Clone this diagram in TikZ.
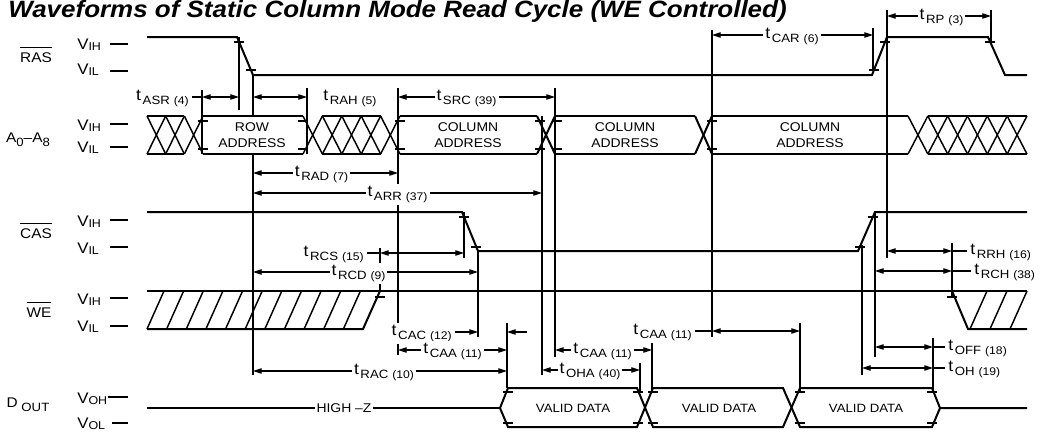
\documentclass[tikz,border=0pt]{standalone}
\usepackage{fontspec}
\setmainfont[FakeStretch=1.1]{Liberation Sans}
\usetikzlibrary{arrows.meta}
\newcommand{\tsb}[2]{t\kern1.2pt\raisebox{-3pt}{\fontsize{9}{9}\selectfont #1\kern3pt\fontsize{8.3}{9}\selectfont #2}}
\newcommand{\vsb}[1]{V\raisebox{-0.8pt}{\fontsize{8.5}{9}\selectfont #1}}
\newcommand{\ovl}[1]{\setbox0=\hbox{#1}\rlap{\rule[\dimexpr\ht0+3pt\relax]{\wd0}{0.7pt}}\box0{}}
\begin{document}
\begin{tikzpicture}[x=0.75pt,y=-0.75pt,
 sig/.style={line width=1.5pt,line join=miter},
 hat/.style={line width=1.1pt},
 ln/.style={line width=0.8pt},
 tk/.style={line width=0.8pt},
 dim/.style={line width=0.8pt,{Triangle[length=6.5pt,width=4pt]}-{Triangle[length=6.5pt,width=4pt]}},
 adim/.style={line width=0.8pt,-{Triangle[length=6.5pt,width=4pt]}},
 tlab/.style={font=\fontsize{12}{12}\selectfont,inner sep=1.5pt,fill=white},
 vl/.style={font=\fontsize{11.5}{12}\selectfont,inner sep=0pt,anchor=base west},
 sname/.style={font=\fontsize{10.5}{12}\selectfont,inner sep=0pt,anchor=base},
 bus/.style={font=\fontsize{9.5}{12.4}\selectfont,align=center,inner sep=0pt},
 dat/.style={font=\fontsize{9}{11}\selectfont,inner sep=1pt}]
\useasboundingbox (0,0) rectangle (1046,433);
\clip (0,0) rectangle (1046,433);
\fill[white] (0,0) rectangle (1046,433);

% title
\node[anchor=base west,inner sep=0pt,font=\fontsize{17.7}{18}\selectfont\bfseries\itshape] (title) at (8,17.5) {Waveforms of Static Column Mode Read Cycle (\ovl{WE} Controlled)};

% signal names
\node[sname] (nRAS) at (36,62) {\ovl{RAS}};
\node[sname] (nA) at (28,142) {A\raisebox{-3.5pt}{\fontsize{9}{9}\selectfont 0}–A\raisebox{-3.5pt}{\fontsize{9}{9}\selectfont 8}};
\node[sname] (nCAS) at (36,238) {\ovl{CAS}};
\node[sname] (nWE) at (39,317) {\ovl{WE}};
\node[sname] (nDO) at (28,407) {D\raisebox{-3pt}{\fontsize{9}{9}\selectfont\ OUT}};

% level labels
\node[vl] (v1) at (77,49) {\vsb{IH}};
\node[vl] (v2) at (77,74) {\vsb{IL}};
\node[vl] (v3) at (77,130) {\vsb{IH}};
\node[vl] (v4) at (77,152) {\vsb{IL}};
\node[vl] (v5) at (77,226) {\vsb{IH}};
\node[vl] (v6) at (77,253) {\vsb{IL}};
\node[vl] (v7) at (77,304) {\vsb{IH}};
\node[vl] (v8) at (77,331) {\vsb{IL}};
\node[vl] (v9) at (77,403) {\vsb{OH}};
\node[vl] (v10) at (77,428) {\vsb{OL}};
\foreach \a/\b/\y in {110/128/44, 110/128/71, 110/128/124, 110/128/147, 110/128/220, 110/128/247, 110/128/298, 110/128/326, 108/128/397, 112/128/423}
  \draw[ln] (\a,\y)--(\b,\y);

% verticals
\foreach \x/\a/\b in {202/90/154, 239/37/110, 253/75/116, 253/154/375, 307/88/154, 380/248/291, 464/212/258, 478/251/337, 507/323/388, 542/116/375, 555/88/357, 640/363/392, 652/343/392, 712/30/337, 800/323/392, 862/245/375, 873/28/70, 875/212/357, 887/10/258, 933/338/392, 952/243/298, 991/10/42, 398/88/355}
  \draw[ln] (\x,\a)--(\x,\b);

% RAS
\draw[sig] (147,37)--(237,37)--(253,75)--(872,75)--(887,37)--(988,37)--(1005,75)--(1027,75);

% Address bus
\foreach \a/\b in {147/184.33, 203/303, 322.4/380.6, 400/537, 555/695, 712/908, 927.83/1027}
  {\draw[sig] (\a,116)--(\b,116); \draw[sig] (\a,154)--(\b,154);}
\foreach \s/\w/\n in {147/18.667/2, 303/19.4/4, 908/19.833/5}
  \foreach \k in {0,...,\n}
    {\draw[hat] ({\s+\k*\w},116)--({\s+(\k+1)*\w},154);
     \draw[hat] ({\s+\k*\w},154)--({\s+(\k+1)*\w},116);}
\foreach \a/\b in {537/555, 695/712}
  {\draw[sig] (\a,116)--(\b,154); \draw[sig] (\a,154)--(\b,116);}
\node[bus] (row) at (252,135) {ROW\\ADDRESS};
\node[bus] (c1) at (468,135) {COLUMN\\ADDRESS};
\node[bus] (c2) at (625,135) {COLUMN\\ADDRESS};
\node[bus] (c3) at (810,135) {COLUMN\\ADDRESS};

% CAS
\draw[sig] (147,212)--(462,212)--(478,251)--(858,251)--(875,212)--(1027,212);

% WE
\draw[sig] (147,291)--(1027,291);
\draw[sig] (952,291)--(968,329)--(1027,329);
\draw[sig] (147,329)--(363,329)--(380,291);
\foreach \k in {0,...,10}
  \draw[hat] ({147+\k*19.64},329)--({164+\k*19.64},291);
\foreach \x in {970,990,1010}
  \draw[hat] (\x,329)--({\x+17},291);

% D OUT
\draw[sig] (147,408)--(500,408);
\draw[sig] (500,408)--(508,388)--(637,388)--(653,427)--(783,427)--(800,388)--(932,388)--(940,408)--(1027,408);
\draw[sig] (500,408)--(508,427)--(637,427)--(653,388)--(783,388)--(800,427)--(932,427)--(940,408);
\node[dat,fill=white,font=\fontsize{9.5}{11}\selectfont] (hz) at (344,408) {HIGH –Z};
\node[dat] (d1) at (573,408) {VALID DATA};
\node[dat] (d2) at (719,408) {VALID DATA};
\node[dat] (d3) at (866,408) {VALID DATA};

% threshold ticks
\foreach \x/\y in {239/42, 251/70, 874/70, 885/42, 990/42,
  203/121, 203/149, 303/121, 303/149, 400/121, 400/149, 540/121, 540/149, 557/121, 557/149, 712/121, 712/149,
  464/217, 476/247, 860/247, 873/217, 380/297, 952/297,
  508/392, 508/423, 638/392, 638/423, 653/392, 653/423, 800/392, 800/423, 932/392, 932/423}
  \draw[tk] ({\x-5},\y)--({\x+5},\y);

% timing dimensions
\draw[ln] (192,97)--(202,97);
\draw[dim] (202,97)--(239,97);
\node[tlab,anchor=base east,fill=none] (lASR) at (191,100.5) {\tsb{ASR}{(4)}};
\draw[dim] (253,97)--(307,97);
\node[tlab,anchor=base west,fill=none] (lRAH) at (321,100.5) {\tsb{RAH}{(5)}};
\draw[dim] (398,97)--(555,97);
\node[tlab,anchor=base] (lSRC) at (466.5,100.5) {\tsb{SRC}{(39)}};
\draw[dim] (253,173)--(398,173);
\node[tlab,anchor=base] (lRAD) at (321.5,176.5) {\tsb{RAD}{(7)}};
\draw[dim] (253,193)--(542,193);
\node[tlab,anchor=base] (lARR) at (397.5,196.5) {\tsb{ARR}{(37)}};
\draw[ln] (367,253)--(380,253);
\draw[dim] (380,253)--(464,253);
\node[tlab,anchor=base east,fill=none] (lRCS) at (366,256.5) {\tsb{RCS}{(15)}};
\draw[dim] (253,272)--(478,272);
\node[tlab,anchor=base] (lRCD) at (358.5,275.5) {\tsb{RCD}{(9)}};
\draw[adim] (455,332)--(478,332);
\draw[adim] (527,332)--(507,332);
\node[tlab,anchor=base east] (lCAC) at (454,335.5) {\tsb{CAC}{(12)}};
\draw[dim] (398,350)--(507,350);
\node[tlab,anchor=base] (lCAA1) at (452.5,353.5) {\tsb{CAA}{(11)}};
\draw[dim] (253,371)--(507,371);
\node[tlab,anchor=base] (lRAC) at (384,374.5) {\tsb{RAC}{(10)}};
\draw[dim] (542,370)--(640,370);
\node[tlab,anchor=base] (lOHA) at (590,373.5) {\tsb{OHA}{(40)}};
\draw[dim] (555,350)--(652,350);
\node[tlab,anchor=base] (lCAA2) at (602.5,353.5) {\tsb{CAA}{(11)}};
\draw[ln] (695,331)--(712,331);
\draw[dim] (712,331)--(800,331);
\node[tlab,anchor=base east,fill=none] (lCAA3) at (694,334.5) {\tsb{CAA}{(11)}};
\draw[dim] (712,35)--(873,35);
\node[tlab,anchor=base] (lCAR) at (792,38.5) {\tsb{CAR}{(6)}};
\draw[dim] (887,16)--(991,16);
\node[tlab,anchor=base] (lRP) at (941.5,19.5) {\tsb{RP}{(3)}};
\draw[dim] (887,251)--(952,251);
\draw[ln] (952,251)--(967,251);
\node[tlab,anchor=base west,fill=none] (lRRH) at (968,254.5) {\tsb{RRH}{(16)}};
\draw[dim] (875,271)--(952,271);
\draw[ln] (952,271)--(971,271);
\node[tlab,anchor=base west,fill=none] (lRCH) at (972,274.5) {\tsb{RCH}{(38)}};
\draw[dim] (875,347)--(933,347);
\draw[ln] (933,347)--(945,347);
\node[tlab,anchor=base west,fill=none] (lOFF) at (946,350.5) {\tsb{OFF}{(18)}};
\draw[dim] (862,368)--(933,368);
\draw[ln] (933,368)--(945,368);
\node[tlab,anchor=base west,fill=none] (lOH) at (946,371.5) {\tsb{OH}{(19)}};
\end{tikzpicture}
\end{document}
